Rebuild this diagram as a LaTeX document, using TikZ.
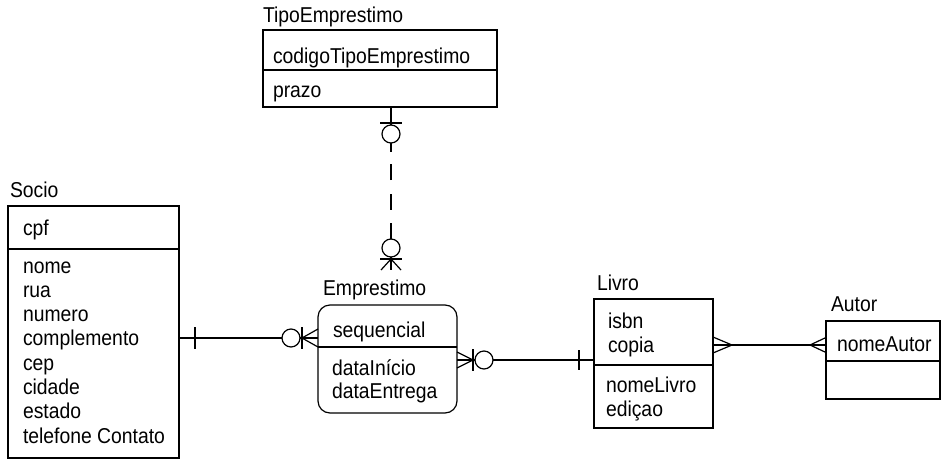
\documentclass[tikz,border=0pt]{standalone}
\usepackage{fontspec}
\setmainfont{Liberation Sans}[FakeStretch=0.9]
\begin{document}
\begin{tikzpicture}[x=1pt,y=-1pt,line width=1.2pt,
  every node/.style={inner sep=0pt,outer sep=0pt,font=\fontsize{21.5}{24.3}\selectfont},
  txt/.style={anchor=base west},
  box/.style={draw,line width=1.2pt,rectangle},
  circ/.style={draw,circle,fill=white,minimum size=18pt,line width=1.2pt}]
\useasboundingbox (0,0) rectangle (941,460);
% entity boxes
\node[box,minimum width=234pt,minimum height=77pt] (tipo) at (380,68.5) {};
\node[box,minimum width=171pt,minimum height=252pt] (socio) at (93.5,332) {};
\node[box,rounded corners=12pt,minimum width=139pt,minimum height=108pt] (empr) at (387.5,359) {};
\node[box,minimum width=119pt,minimum height=129pt] (livro) at (653.5,363.5) {};
\node[box,minimum width=114pt,minimum height=78pt] (autor) at (883,360) {};
% dividers
\draw ([yshift=-1.5pt]tipo.west) -- ([yshift=-1.5pt]tipo.east);
\draw ([yshift=83pt]socio.west) -- ([yshift=83pt]socio.east);
\draw ([yshift=12pt]empr.west) -- ([yshift=12pt]empr.east);
\draw ([yshift=-1.5pt]livro.west) -- ([yshift=-1.5pt]livro.east);
\draw ([yshift=-1pt]autor.west) -- ([yshift=-1pt]autor.east);
% texts
\node[txt] (tipoT) at (263,23) {TipoEmprestimo};
\node[txt] (tipoA1) at (273,63.5) {codigoTipoEmprestimo};
\node[txt] (tipoA2) at (273,97) {prazo};
\node[txt] (socioT) at (10,197) {Socio};
\node[txt] (socioK) at (23,235) {cpf};
\foreach \t [count=\i] in {nome,rua,numero,complemento,cep,cidade,estado,telefone Contato}
  \node[txt] (socioA\i) at (23,{273+24.3*(\i-1)}) {\t};
\node[txt] (emprT) at (323,295) {Emprestimo};
\node[txt] (emprK) at (333,337) {sequencial};
\node[txt] (emprA1) at (332,375) {dataInício};
\node[txt] (emprA2) at (332,398.5) {dataEntrega};
\node[txt] (livroT) at (597,290) {Livro};
\node[txt] (livroK1) at (608,328) {isbn};
\node[txt] (livroK2) at (608,352) {copia};
\node[txt] (livroA1) at (606,392) {nomeLivro};
\node[txt] (livroA2) at (606,416.5) {ediçao};
\node[txt] (autorT) at (831,311) {Autor};
\node[txt] (autorK) at (837,351) {nomeAutor};
% --- TipoEmprestimo -- Emprestimo (vertical)
\coordinate (tS) at ([xshift=11pt]tipo.south);
\coordinate (d1) at ([yshift=-45pt]tS);
\coordinate (eN) at (391,270);
\draw (tS) -- (d1);
\draw ([yshift=-16pt]tS) ++(-11,0) -- ++(22,0);
\node[circ] (c1) at ([yshift=-27pt]tS) {};
\node[circ] (c2) at ([yshift=22pt]eN) {};
\draw[dash pattern=on 16pt off 13.5pt] (c2.north) -- (d1);
\coordinate (cb) at ([yshift=11pt]eN);
\draw (c2.south) -- (eN);
\draw ([xshift=-11pt]cb) -- ([xshift=11pt]cb);
\draw ([xshift=-10pt]eN) -- (cb) -- ([xshift=10pt]eN);
% --- Socio -- Emprestimo
\coordinate (sE) at ([yshift=-6pt]socio.east);
\coordinate (eW) at ([yshift=21pt]empr.west);
\draw (sE) -- (eW);
\draw ([xshift=16pt,yshift=11pt]sE) -- ([xshift=16pt,yshift=-11pt]sE);
\node[circ] (c3) at ([xshift=-27pt]eW) {};
\draw ([xshift=-16pt,yshift=11pt]eW) -- ([xshift=-16pt,yshift=-11pt]eW);
\draw ([yshift=9pt]eW) -- ([xshift=-16pt]eW) -- ([yshift=-9pt]eW);
% --- Emprestimo -- Livro
\coordinate (eE) at ([yshift=-1pt]empr.east);
\coordinate (lW) at ([yshift=3.5pt]livro.west);
\draw (eE) -- (lW);
\draw ([yshift=8pt]eE) -- ([xshift=16pt]eE) -- ([yshift=-8pt]eE);
\draw ([xshift=16pt,yshift=11pt]eE) -- ([xshift=16pt,yshift=-11pt]eE);
\node[circ] (c4) at ([xshift=27pt]eE) {};
\draw ([xshift=-15pt,yshift=10pt]lW) -- ([xshift=-15pt,yshift=-10pt]lW);
% --- Livro -- Autor
\coordinate (lE) at ([yshift=18.5pt]livro.east);
\coordinate (aW) at ([yshift=15pt]autor.west);
\draw (lE) -- (aW);
\draw ([yshift=8pt]lE) -- ([xshift=19pt]lE) -- ([yshift=-8pt]lE);
\draw ([yshift=7.5pt]aW) -- ([xshift=-16pt]aW) -- ([yshift=-7.5pt]aW);
\end{tikzpicture}
\end{document}
